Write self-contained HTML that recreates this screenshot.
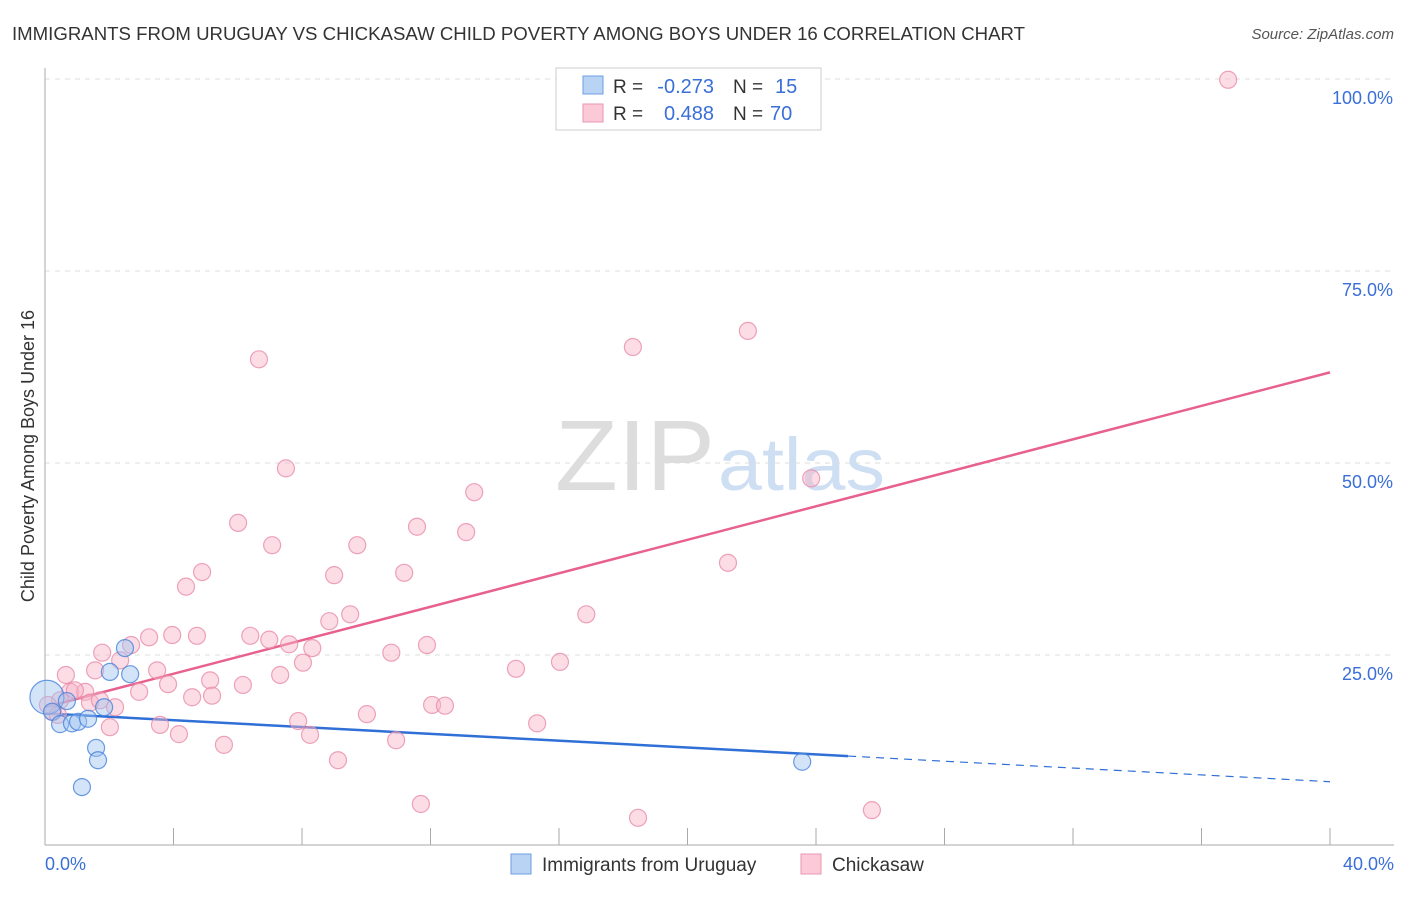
<!DOCTYPE html>
<html><head><meta charset="utf-8"><style>
body{margin:0;background:#fff;font-family:"Liberation Sans",sans-serif}
svg text{font-family:"Liberation Sans",sans-serif}
</style></head><body>
<svg id="c" width="1406" height="892">
<text x="12" y="40" font-size="18" fill="#333" textLength="1013" lengthAdjust="spacingAndGlyphs">IMMIGRANTS FROM URUGUAY VS CHICKASAW CHILD POVERTY AMONG BOYS UNDER 16 CORRELATION CHART</text>
<text x="1394" y="39" font-size="15" fill="#555" text-anchor="end" font-style="italic">Source: ZipAtlas.com</text>
<text x="0" y="0" transform="translate(34,456) rotate(-90)" font-size="18" fill="#333" text-anchor="middle">Child Poverty Among Boys Under 16</text>
<text x="715" y="490" font-size="100" fill="#ddd" text-anchor="end" font-family="Liberation Serif" textLength="160" lengthAdjust="spacingAndGlyphs">ZIP</text>
<text x="718" y="490" font-size="74" fill="#cfdff3" textLength="167" lengthAdjust="spacingAndGlyphs">atlas</text>
<g id="grid"></g><g id="axes"></g><g id="lines"></g><g id="pts"></g>
<g>
<rect x="556" y="68" width="265" height="62" fill="#fff" stroke="#ccc"/>
<rect x="583" y="76" width="20" height="18" fill="#b9d3f5" stroke="#6d9fe0"/>
<rect x="583" y="104" width="20" height="18" fill="#fbc9d8" stroke="#eb95b1"/>
<text x="613" y="93" font-size="19" fill="#333">R =</text>
<text x="714" y="93" font-size="20" fill="#3a6fd8" text-anchor="end">-0.273</text>
<text x="733" y="93" font-size="19" fill="#333">N =</text>
<text x="775" y="93" font-size="20" fill="#3a6fd8">15</text>
<text x="613" y="120" font-size="19" fill="#333">R =</text>
<text x="714" y="120" font-size="20" fill="#3a6fd8" text-anchor="end">0.488</text>
<text x="733" y="120" font-size="19" fill="#333">N =</text>
<text x="770" y="120" font-size="20" fill="#3a6fd8">70</text>
</g>
<g>
<rect x="511" y="854" width="20" height="20" fill="#b9d3f5" stroke="#6d9fe0"/>
<text x="542" y="871" font-size="19" fill="#333">Immigrants from Uruguay</text>
<rect x="801" y="854" width="20" height="20" fill="#fbc9d8" stroke="#eb95b1"/>
<text x="832" y="871" font-size="19" fill="#333">Chickasaw</text>
</g>
</svg>
<script>
const yTicks=[25,50,75,100];
const xTickLabels=["0.0%","40.0%"];
const blueX=[0.06,0.22,0.47,0.84,1.03,1.34,0.68,1.59,1.65,1.15,2.02,2.65,1.84,2.49,23.57];
const blueY=[19.5,17.6,16.0,16.1,16.3,16.7,19.0,12.9,11.3,7.8,22.8,22.5,18.2,25.9,11.1];
const pinkX=[36.83,21.88,18.30,6.66,7.50,23.85,13.36,6.01,11.58,13.11,7.07,9.72,4.89,9.00,11.18,4.39,21.26,9.50,16.85,8.85,3.24,3.96,4.73,6.39,6.98,7.60,8.32,2.68,1.78,2.34,10.78,11.89,16.03,14.66,0.65,1.56,3.49,7.32,8.03,3.83,5.14,6.16,2.93,0.78,1.25,4.58,5.20,0.47,1.40,2.18,12.05,12.45,0.25,2.02,3.58,4.17,5.57,7.88,8.25,10.02,10.93,9.12,15.32,11.70,18.46,25.74,0.09,0.40,1.71,0.93];
const pinkY=[99.9,67.2,65.1,63.5,49.3,48.0,46.2,42.2,41.7,41.0,39.3,39.3,35.8,35.4,35.7,33.9,37.0,30.3,30.3,29.4,27.3,27.6,27.5,27.5,27.0,26.4,25.9,26.3,25.3,24.3,25.3,26.3,24.1,23.2,22.4,23.0,23.0,22.4,24.0,21.2,21.7,21.1,20.2,20.2,20.2,19.5,19.7,19.1,18.8,18.2,18.5,18.4,17.6,15.6,15.9,14.7,13.3,16.4,14.6,17.3,13.9,11.3,16.1,5.6,3.8,4.8,18.5,17.2,19.1,20.4];
const blueTrend=[17.4,8.5], blueSolidEnd=25;
const pinkTrend=[18.2,61.8];
const NS="http://www.w3.org/2000/svg";
const X=v=>45+v*32.125, Y=v=>847-v*7.68;
function mk(tag,attrs,parent){const e=document.createElementNS(NS,tag);for(const k in attrs)e.setAttribute(k,attrs[k]);document.getElementById(parent).appendChild(e);return e;}
yTicks.forEach(t=>{
 const l=mk('line',{x1:45,x2:1394,y1:Y(t),y2:Y(t),stroke:'#ddd','stroke-dasharray':'5,5'},'grid');
 
 
 const tx=mk('text',{x:1393,y:Y(t)+25,'font-size':18,fill:'#3a6fd8','text-anchor':'end'},'grid');
 tx.textContent=t.toFixed(1)+'%';
 
 
});
let a=mk('line',{x1:45,x2:45,y1:68,y2:845,stroke:'#aaa'},'axes');


a=mk('line',{x1:45,x2:1394,y1:845,y2:845,stroke:'#aaa'},'axes');


for(let i=0;i<=10;i++){const t=mk('line',{x1:X(i*4),x2:X(i*4),y1:828,y2:845,stroke:'#aaa'},'axes');
 
 }
[[0,45,'start'],[40,1394,'end']].forEach((d,i)=>{const t=mk('text',{x:d[1],y:870,'font-size':18,fill:'#3a6fd8','text-anchor':d[2]},'axes');t.textContent=xTickLabels[i];
 
 });
function ptsOf(xs,ys,fill,stroke,name){xs.forEach((x,i)=>{const c=mk('circle',{cx:X(x),cy:Y(ys[i]),r:(name==='blue-point'&&i===0)?17:8.5,fill:fill,stroke:stroke,'stroke-width':1.2},'pts');
 
 });}
ptsOf(pinkX,pinkY,'rgba(248,180,200,0.45)','rgba(232,140,170,0.8)','pink-point');
ptsOf(blueX,blueY,'rgba(160,195,240,0.45)','rgba(70,130,220,0.8)','blue-point');
const bAt=x=>blueTrend[0]+(blueTrend[1]-blueTrend[0])*x/40;
let l=mk('line',{x1:X(0),y1:Y(pinkTrend[0]),x2:X(40),y2:Y(pinkTrend[1]),stroke:'#e8608e','stroke-width':2.5},'lines');


l=mk('line',{x1:X(0),y1:Y(bAt(0)),x2:X(blueSolidEnd),y2:Y(bAt(blueSolidEnd)),stroke:'#2f6fd6','stroke-width':2.5},'lines');


l=mk('line',{x1:X(blueSolidEnd),y1:Y(bAt(blueSolidEnd)),x2:X(40),y2:Y(bAt(40)),stroke:'#2f6fd6','stroke-width':1.2,'stroke-dasharray':'8,6'},'lines');


</script>
</body></html>
